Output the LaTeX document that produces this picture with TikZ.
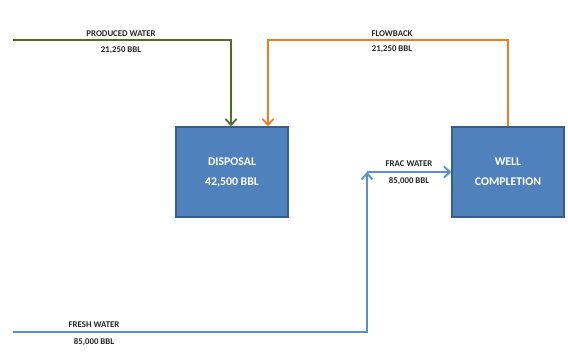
\documentclass[tikz,border=0pt]{standalone}
\usepackage{fontspec}
\setmainfont{Carlito}
\usetikzlibrary{arrows.meta}
\definecolor{boxfill}{HTML}{4F81BD}
\definecolor{boxedge}{HTML}{385D8A}
\definecolor{greenl}{HTML}{546B2C}
\definecolor{orangel}{HTML}{F07D22}
\definecolor{bluel}{HTML}{5A8FD0}
\begin{document}
\begin{tikzpicture}[x=1pt,y=-1pt,
  box/.style={draw=boxedge,line width=1.5pt,fill=boxfill,text=white,font=\bfseries\fontsize{11.8}{20}\selectfont,align=center,minimum width=112pt,minimum height=90pt,inner sep=0pt},
  lbl/.style={font=\bfseries\fontsize{8.8}{10}\selectfont,text=black!85,inner sep=0pt,align=center},
  flow/.style={line width=2.2pt,-{Straight Barb[length=6pt,width=11pt,line width=1.8pt]}}]
\useasboundingbox (0,0) rectangle (568,360);
\node[box] (disp) at (232,172) {DISPOSAL\\42,500 BBL};
\node[box] (well) at (508,172) {WELL\\COMPLETION};
% produced water
\coordinate (pwS) at (13,40);
\coordinate (pwC) at (231,40);
\draw[flow,greenl] (pwS) -- (pwC) -- (pwC |- disp.north);
\node[lbl] (pwT) at (121,33.5) {PRODUCED WATER};
\node[lbl] (pwV) at (121,50) {21,250 BBL};
% flowback
\coordinate (fbA) at (508,40);
\coordinate (fbB) at (268,40);
\draw[flow,orangel] (well.north) -- (fbA) -- (fbB) -- (fbB |- disp.north);
\node[lbl] (fbT) at (392,33.5) {FLOWBACK};
\node[lbl] (fbV) at (392,49) {21,250 BBL};
% fresh water
\coordinate (fwS) at (13,332);
\coordinate (fwC) at (367,332);
\coordinate (fwU) at (367,172);
\draw[flow,bluel] (fwS) -- (fwC) -- (fwU);
\draw[flow,bluel] (fwU) -- (well.west);
\node[lbl] (fwT) at (94,325) {FRESH WATER};
\node[lbl] (fwV) at (94,342) {85,000 BBL};
\node[lbl] (frT) at (409,164) {FRAC WATER};
\node[lbl] (frV) at (409,181.5) {85,000 BBL};
\end{tikzpicture}
\end{document}
